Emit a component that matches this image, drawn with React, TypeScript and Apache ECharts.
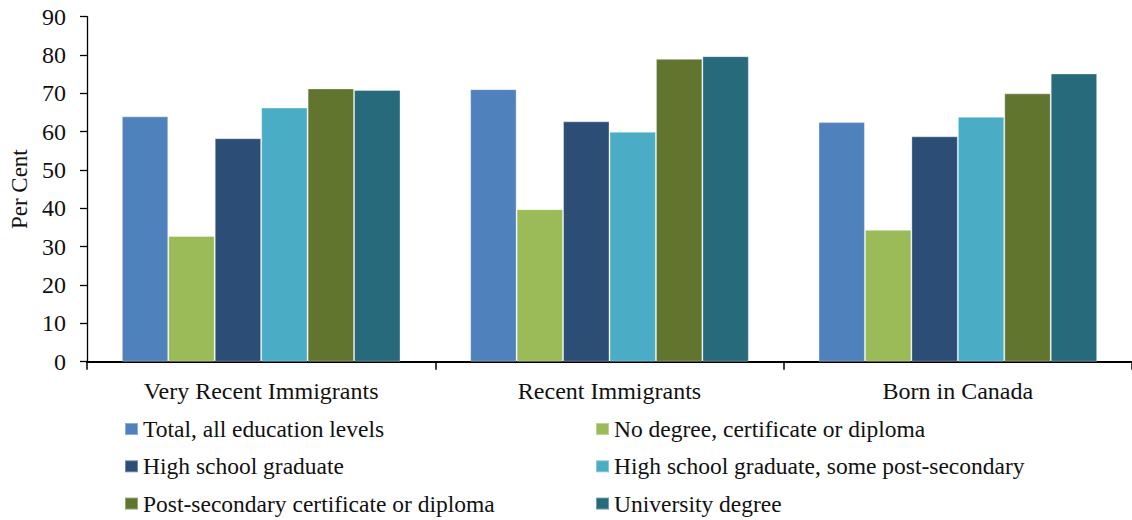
import React, { useEffect, useRef } from "react";
import * as echarts from "echarts";

const categories = ["Very Recent Immigrants", "Recent Immigrants", "Born in Canada"];

const seriesNames = [
  "Total, all education levels",
  "No degree, certificate or diploma",
  "High school graduate",
  "High school graduate, some post-secondary",
  "Post-secondary certificate or diploma",
  "University degree",
];

const totalAll = [64.0, 71.1, 62.5];
const noDegree = [32.8, 39.8, 34.4];
const highSchool = [58.3, 62.7, 58.8];
const highSchoolSomePost = [66.3, 60.0, 63.9];
const postSecondary = [71.3, 79.0, 70.0];
const university = [70.9, 79.7, 75.2];

const seriesValues = [totalAll, noDegree, highSchool, highSchoolSomePost, postSecondary, university];

const colors = ["#4F81BD", "#9BBB59", "#2C4D75", "#4BACC6", "#61752F", "#276A7C"];

const FONT = '"Liberation Serif", "Times New Roman", serif';

export default function App() {
  const ref = useRef<HTMLDivElement>(null);

  useEffect(() => {
    if (!ref.current) return;
    const chart = echarts.init(ref.current, undefined, { renderer: "svg" });

    const legendText = { fontFamily: FONT, fontSize: 23.5, color: "#111", lineHeight: 24 };
    const legendBase = {
      orient: "vertical",
      top: 417,
      height: 110,
      width: 500,
      itemWidth: 13,
      itemHeight: 12,
      itemGap: 13.3,
      icon: "rect",
      padding: 0,
      textStyle: legendText,
    };

    chart.setOption({
      animation: false,
      backgroundColor: "#ffffff",
      textStyle: { fontFamily: FONT },
      grid: { left: 84, top: 16.7, width: 1051, height: 345, containLabel: false },
      xAxis: {
        type: "category",
        data: categories,
        axisLine: { lineStyle: { color: "#000", width: 2 } },
        axisTick: { show: true, length: 8, lineStyle: { color: "#000", width: 1.5 } },
        axisLabel: { fontFamily: FONT, fontSize: 24, color: "#111", margin: 17 },
        splitLine: { show: false },
      },
      yAxis: {
        type: "value",
        min: 0,
        max: 90,
        interval: 10,
        name: "Per Cent",
        nameLocation: "middle",
        nameGap: 56,
        nameTextStyle: { fontFamily: FONT, fontSize: 23, color: "#111" },
        axisLine: { show: true, lineStyle: { color: "#000", width: 1.3 } },
        axisTick: { show: true, length: 7, lineStyle: { color: "#000", width: 1.3 } },
        axisLabel: { fontFamily: FONT, fontSize: 24, color: "#111", margin: 21 },
        splitLine: { show: false },
      },
      legend: [
        { ...legendBase, left: 124, data: [seriesNames[0], seriesNames[2], seriesNames[4]] },
        { ...legendBase, left: 595, data: [seriesNames[1], seriesNames[3], seriesNames[5]] },
      ],
      series: seriesNames.map((name, i) => ({
        name,
        type: "bar",
        data: seriesValues[i],
        barGap: "0%",
        barCategoryGap: "20%",
        itemStyle: {
          color: colors[i],
          borderColor: "rgba(255,255,255,0.35)",
          borderWidth: 1,
        },
      })),
    });

    return () => chart.dispose();
  }, []);

  return (
    <div
      ref={ref}
      style={{ position: "fixed", left: 0, top: 0, width: 1132, height: 520, background: "#fff" }}
    />
  );
}
